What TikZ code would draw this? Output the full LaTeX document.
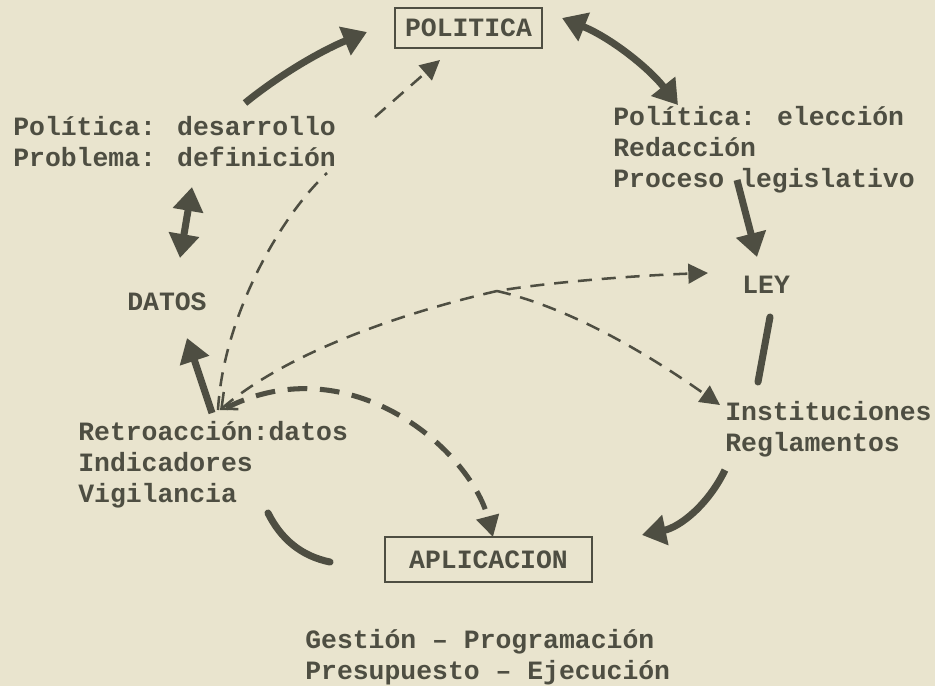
\documentclass[tikz,border=0pt]{standalone}
\usepackage{fontspec}
\newfontfamily\typefont{Liberation Mono}
\usetikzlibrary{arrows.meta}

\definecolor{papercol}{RGB}{233,228,206}
\definecolor{inkgrey}{RGB}{78,78,66}

\tikzset{
  flowtext/.style={anchor=base west, inner sep=0pt, align=left, text=inkgrey,
                   font=\typefont\bfseries\fontsize{18.8}{22}\selectfont},
  stagebox/.style={flowtext, anchor=center, draw=inkgrey, line width=1.3pt,
                   minimum height=1cm},
  heavyline/.style={draw=inkgrey, line width=5pt, line cap=round},
  heavyarrow/.style={draw=inkgrey, line width=5pt,
                     -{Triangle[length=17pt,width=21pt]}},
  heavyboth/.style={draw=inkgrey, line width=5pt,
                    {Triangle[length=17pt,width=21pt]}-{Triangle[length=17pt,width=21pt]}},
  lightdash/.style={draw=inkgrey, line width=1.8pt, dash pattern=on 10pt off 7pt,
                    -{Triangle[length=14pt,width=14pt]}},
  heavydash/.style={draw=inkgrey, line width=3.6pt, dash pattern=on 14pt off 9pt,
                    -{Triangle[length=15pt,width=16pt]}}
}

\begin{document}
\begin{tikzpicture}[x=0.025cm, y=-0.025cm]
  \useasboundingbox[fill=papercol] (0,0) rectangle (935,686);

  % stages of the cycle
  \node[stagebox, minimum width=3.675cm] (politica) at (468.5,28) {POLITICA};
  \node[stagebox, minimum width=5.175cm, minimum height=1.125cm] (aplicacion) at (488.5,559.5) {APLICACION};
  \node[flowtext] (desarrollo) at (13,166) {Política: desarrollo\\Problema: definición};
  \node[flowtext] (eleccion) at (613,187) {Política: elección\\Redacción\\Proceso legislativo};
  \node[flowtext] (ley) at (742,293) {LEY};
  \node[flowtext] (inst) at (725,451) {Instituciones\\Reglamentos};
  \node[flowtext] (retro) at (78,502) {Retroacción:datos\\Indicadores\\Vigilancia};
  \node[flowtext] (datos) at (127,310) {DATOS};
  \node[flowtext] (gestion) at (305,679) {Gestión – Programación\\Presupuesto – Ejecución};
  \coordinate (split) at (497,291);

  % main cycle
  \draw[heavyarrow] ([shift={(232,-63)}]desarrollo.base west) .. controls +(37,-30) and +(-44,18) .. ([shift={(-101.5,4)}]politica.center);
  \draw[heavyboth] ([shift={(93.5,-10)}]politica.center) .. controls +(47,19) and +(-31,-39) .. ([shift={(65,-82)}]eleccion.base west);
  \draw[heavyarrow] ([shift={(124,-7)}]eleccion.base west) -- ([shift={(15,-36)}]ley.base west);
  \draw[heavyline] ([shift={(28,24)}]ley.base west) -- ([shift={(33,-69)}]inst.base west);
  \draw[heavyarrow] ([shift={(0,19)}]inst.base west) .. controls +(-17,35) and +(38,-8) .. ([shift={(153.5,-24.5)}]aplicacion.center);
  \draw[heavyline] ([shift={(190,11)}]retro.base west) .. controls +(13,26) and +(-29,-6) .. ([shift={(-158.5,2.5)}]aplicacion.center);
  \draw[heavyarrow] ([shift={(134,-89)}]retro.base west) -- ([shift={(60,28)}]datos.base west);
  \draw[heavyboth] ([shift={(53,-52)}]datos.base west) -- ([shift={(179,21)}]desarrollo.base west);

  % feedback
  \draw[lightdash] ([shift={(140,-92)}]retro.base west) .. controls +(5,-90) and +(-50,47) .. ([shift={(314,7)}]desarrollo.base west)
    ([shift={(362,-49)}]desarrollo.base west) -- ([shift={(-28.5,32)}]politica.center);
  \draw[lightdash, {Straight Barb[length=9pt,width=16pt]}-{Triangle[length=14pt,width=14pt]}]
    ([shift={(142,-92)}]retro.base west) .. controls +(70,-60) and +(-87,20) .. (split)
    .. controls +(60,-10) and +(-60,2) .. ([shift={(-34,-20)}]ley.base west);
  \draw[lightdash] (split) .. controls +(78,18) and +(-65,-46) .. ([shift={(-5,-46)}]inst.base west);
  \draw[heavydash] ([shift={(148,-94)}]retro.base west) .. controls +(124,-63) and +(-23,-87) .. ([shift={(4.5,-22.5)}]aplicacion.center);
\end{tikzpicture}
\end{document}
